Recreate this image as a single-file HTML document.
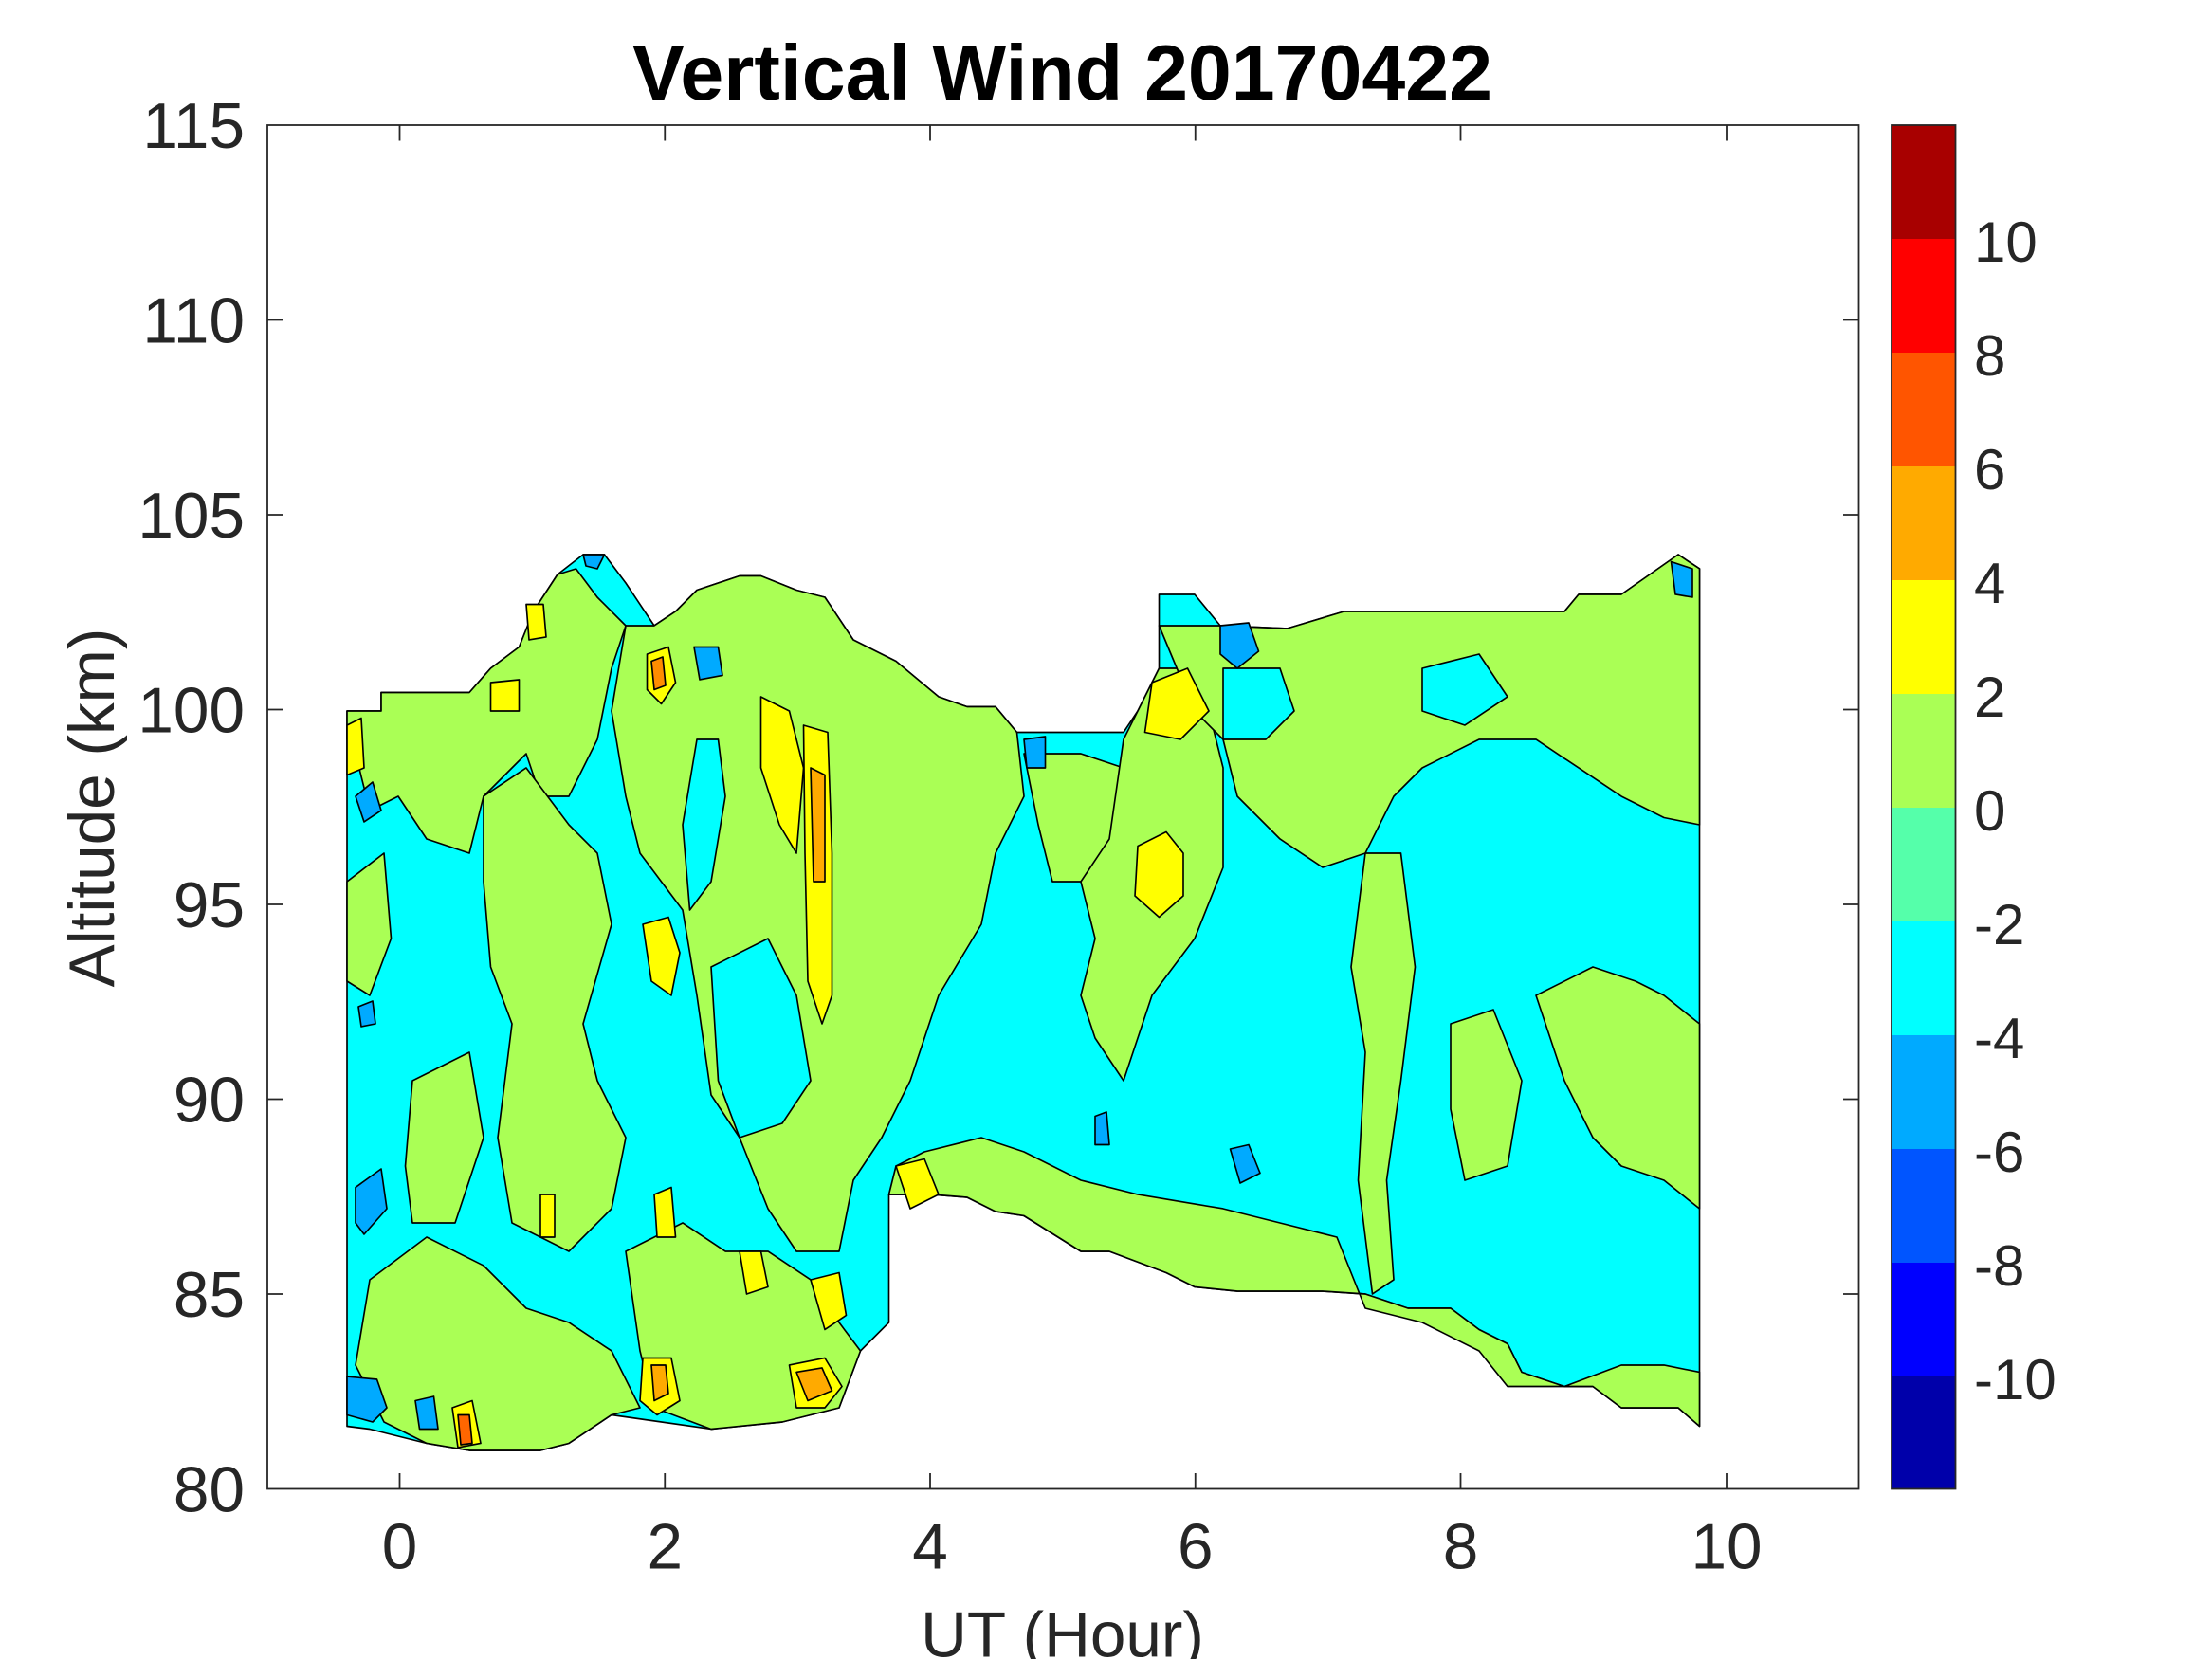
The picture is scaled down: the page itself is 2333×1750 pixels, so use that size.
<!DOCTYPE html>
<html><head><meta charset="utf-8"><style>html,body{margin:0;padding:0;background:#fff}svg{display:block}</style></head>
<body>
<svg width="2333" height="1750" viewBox="0 0 1555.33 1166.67" xmlns="http://www.w3.org/2000/svg" font-family="'Liberation Sans',Arial,sans-serif">
<rect width="1556" height="1167" fill="#fff"/>
<g stroke="#000" stroke-width="1.1" stroke-linejoin="round">
<!-- base cyan region -->
<polygon fill="#00ffff" points="244,500 268,500 268,487 330,487 345,470 365,455 375,430 392,404 410,390 425,390 440,410 460,440 475,430 490,415 520,405 535,405 560,415 580,420 600,450 630,465 660,490 680,497 700,497 715,515 790,515 800,500 815,470 815,418 840,418 858,440 905,442 945,430 1100,430 1110,418 1140,418 1160,404 1180,390 1195,400 1195,1003 1180,990 1140,990 1120,975 1100,975 1070,965 1060,945 1040,935 1020,920 990,920 960,910 930,908 870,908 840,905 820,895 780,880 760,880 720,855 700,852 680,842 655,840 625,840 625,930 605,950 590,990 550,1000 500,1005 430,995 400,1015 380,1020 330,1020 300,1015 260,1005 244,1003"/>
<!-- green regions -->
<polygon fill="#aaff55" points="244,500 268,500 268,487 330,487 345,470 365,455 375,430 392,404 405,400 420,420 440,440 430,470 420,520 400,560 380,560 370,530 340,560 330,600 300,590 280,560 260,570 250,530 244,520"/>
<polygon fill="#aaff55" points="340,560 370,540 400,580 420,600 430,650 410,720 420,760 440,800 430,850 400,880 360,860 350,800 360,720 345,680 340,620"/>
<polygon fill="#aaff55" points="440,440 460,440 475,430 490,415 520,405 535,405 560,415 580,420 600,450 630,465 660,490 680,497 700,497 715,515 720,560 700,600 690,650 660,700 640,760 620,800 600,830 590,880 560,880 540,850 520,800 500,770 490,700 480,640 450,600 440,560 430,500"/>
<polygon fill="#00ffff" points="490,520 505,520 510,560 500,620 485,640 480,580"/>
<polygon fill="#00ffff" points="500,680 540,660 560,700 570,760 550,790 520,800 505,760"/>
<polygon fill="#aaff55" points="720,530 760,530 790,540 800,560 780,600 760,620 740,620 730,580"/>
<polygon fill="#aaff55" points="790,520 815,470 830,470 850,500 860,540 860,610 840,660 810,700 790,760 770,730 760,700 770,660 760,620 780,590"/>
<polygon fill="#aaff55" points="815,440 858,440 905,442 945,430 1100,430 1110,418 1140,418 1160,404 1180,390 1195,400 1195,580 1170,575 1140,560 1110,540 1080,520 1040,520 1000,540 980,560 960,600 930,610 900,590 870,560 860,520 840,500"/>
<polygon fill="#00ffff" points="860,470 900,470 910,500 890,520 860,520"/>
<polygon fill="#00ffff" points="1000,470 1040,460 1060,490 1030,510 1000,500"/>
<polygon fill="#aaff55" points="960,600 985,600 995,680 985,760 975,830 980,900 965,910 955,830 960,740 950,680"/>
<polygon fill="#aaff55" points="1080,700 1120,680 1150,690 1170,700 1195,720 1195,850 1170,830 1140,820 1120,800 1100,760"/>
<polygon fill="#aaff55" points="1020,720 1050,710 1070,760 1060,820 1030,830 1020,780"/>
<polygon fill="#aaff55" points="625,840 655,840 680,842 700,852 720,855 760,880 780,880 820,895 840,905 870,908 930,908 960,910 990,920 1020,920 1040,935 1060,945 1070,965 1100,975 1060,975 1040,950 1000,930 960,920 940,870 900,860 860,850 800,840 760,830 720,810 690,800 650,810 630,820"/>
<polygon fill="#aaff55" points="1100,975 1120,975 1140,990 1180,990 1195,1003 1195,965 1170,960 1140,960"/>
<polygon fill="#aaff55" points="260,900 300,870 340,890 370,920 400,930 430,950 450,990 430,995 400,1015 380,1020 330,1020 300,1015 270,1000 250,960"/>
<polygon fill="#aaff55" points="440,880 480,860 510,880 540,880 570,900 590,930 605,950 590,990 550,1000 500,1005 460,990 450,950"/>
<polygon fill="#aaff55" points="290,760 330,740 340,800 320,860 290,860 285,820"/>
<polygon fill="#aaff55" points="244,620 270,600 275,660 260,700 244,690"/>
<!-- yellow -->
<polygon fill="#ffff00" points="535,490 555,500 565,540 560,600 548,580 535,540"/>
<polygon fill="#ffff00" points="565,510 582,515 585,600 585,700 578,720 568,690 566,600"/>
<polygon fill="#ffaa00" points="570,540 580,545 580,620 572,620"/>
<polygon fill="#ffff00" points="800,595 820,585 832,600 832,630 815,645 798,630"/>
<polygon fill="#ffff00" points="452,650 470,645 478,670 472,700 458,690"/>
<polygon fill="#ffff00" points="455,460 470,455 475,480 465,495 455,485"/>
<polygon fill="#ff8c00" points="458,465 466,462 468,482 460,485"/>
<polygon fill="#ffff00" points="810,480 835,470 850,500 830,520 805,515"/>
<polygon fill="#ffff00" points="630,820 650,815 660,840 640,850"/>
<polygon fill="#ffff00" points="555,960 580,955 592,975 580,990 560,990"/>
<polygon fill="#ffaa00" points="560,965 578,962 585,978 568,985"/>
<polygon fill="#ffff00" points="452,955 472,955 478,985 462,995 450,985"/>
<polygon fill="#ffaa00" points="458,960 468,960 470,980 460,985"/>
<polygon fill="#ffff00" points="570,900 590,895 595,925 580,935"/>
<polygon fill="#ffff00" points="460,840 472,835 475,870 462,870"/>
<polygon fill="#ffff00" points="520,880 535,880 540,905 525,910"/>
<polygon fill="#ffff00" points="318,990 332,985 338,1015 322,1018"/>
<polygon fill="#ff6600" points="322,995 330,995 332,1015 324,1016"/>
<polygon fill="#ffff00" points="345,480 365,478 365,500 345,500"/>
<polygon fill="#ffff00" points="244,510 254,505 256,540 244,545"/>
<polygon fill="#ffff00" points="370,425 382,425 384,448 372,450"/>
<polygon fill="#ffff00" points="380,840 390,840 390,870 380,870"/>
<!-- blue -->
<polygon fill="#00aaff" points="244,968 265,970 272,990 262,1000 244,995"/>
<polygon fill="#00aaff" points="292,985 305,982 308,1005 295,1005"/>
<polygon fill="#00aaff" points="250,835 268,822 272,850 256,868 250,860"/>
<polygon fill="#00aaff" points="865,808 878,805 886,825 872,832"/>
<polygon fill="#00aaff" points="858,440 878,438 885,458 870,470 858,460"/>
<polygon fill="#00aaff" points="488,455 505,455 508,475 492,478"/>
<polygon fill="#00aaff" points="250,560 262,550 268,570 256,578"/>
<polygon fill="#00aaff" points="252,708 262,704 264,720 254,722"/>
<polygon fill="#00aaff" points="720,520 735,518 735,540 722,540"/>
<polygon fill="#00aaff" points="770,785 778,782 780,805 770,805"/>
<polygon fill="#00aaff" points="410,390 425,390 420,400 412,398"/>
<polygon fill="#00aaff" points="1175,395 1190,400 1190,420 1178,418"/>
</g>
<!-- axes -->
<g stroke="#262626" stroke-width="1.2" fill="none">
<rect x="188" y="88" width="1119" height="959"/>
<path d="M281,1047v-11M467.5,1047v-11M654,1047v-11M840.5,1047v-11M1027,1047v-11M1214,1047v-11M281,88v11M467.5,88v11M654,88v11M840.5,88v11M1027,88v11M1214,88v11M188,910h11M188,773h11M188,636h11M188,499h11M188,362h11M188,225h11M1307,910h-11M1307,773h-11M1307,636h-11M1307,499h-11M1307,362h-11M1307,225h-11"/>
</g>
<g font-size="45" fill="#262626" text-anchor="end">
<text x="172" y="1063">80</text><text x="172" y="926">85</text><text x="172" y="789">90</text><text x="172" y="652">95</text><text x="172" y="515">100</text><text x="172" y="378">105</text><text x="172" y="241">110</text><text x="172" y="104">115</text>
</g>
<g font-size="45" fill="#262626" text-anchor="middle">
<text x="281" y="1103">0</text><text x="467.5" y="1103">2</text><text x="654" y="1103">4</text><text x="840.5" y="1103">6</text><text x="1027" y="1103">8</text><text x="1214" y="1103">10</text>
<text x="747" y="1165">UT (Hour)</text>
<text transform="translate(80,568) rotate(-90)">Altitude (km)</text>
</g>
<text x="747" y="70" font-size="55" font-weight="bold" text-anchor="middle" fill="#000">Vertical Wind 20170422</text>
<!-- colorbar -->
<g>
<rect x="1330" y="88" width="45" height="80" fill="#a80000"/>
<rect x="1330" y="168" width="45" height="80" fill="#ff0000"/>
<rect x="1330" y="248" width="45" height="80" fill="#ff5500"/>
<rect x="1330" y="328" width="45" height="80" fill="#ffaa00"/>
<rect x="1330" y="408" width="45" height="80" fill="#ffff00"/>
<rect x="1330" y="488" width="45" height="80" fill="#aaff55"/>
<rect x="1330" y="568" width="45" height="80" fill="#55ffaa"/>
<rect x="1330" y="648" width="45" height="80" fill="#00ffff"/>
<rect x="1330" y="728" width="45" height="80" fill="#00aaff"/>
<rect x="1330" y="808" width="45" height="80" fill="#0055ff"/>
<rect x="1330" y="888" width="45" height="80" fill="#0000ff"/>
<rect x="1330" y="968" width="45" height="79" fill="#0000aa"/>
<rect x="1330" y="88" width="45" height="959" fill="none" stroke="#262626" stroke-width="1.2"/>
</g>
<g font-size="40" fill="#262626">
<text x="1388" y="184">10</text><text x="1388" y="264">8</text><text x="1388" y="344">6</text><text x="1388" y="424">4</text><text x="1388" y="504">2</text><text x="1388" y="584">0</text><text x="1388" y="664">-2</text><text x="1388" y="744">-4</text><text x="1388" y="824">-6</text><text x="1388" y="904">-8</text><text x="1388" y="984">-10</text>
</g>
</svg>
</body></html>
